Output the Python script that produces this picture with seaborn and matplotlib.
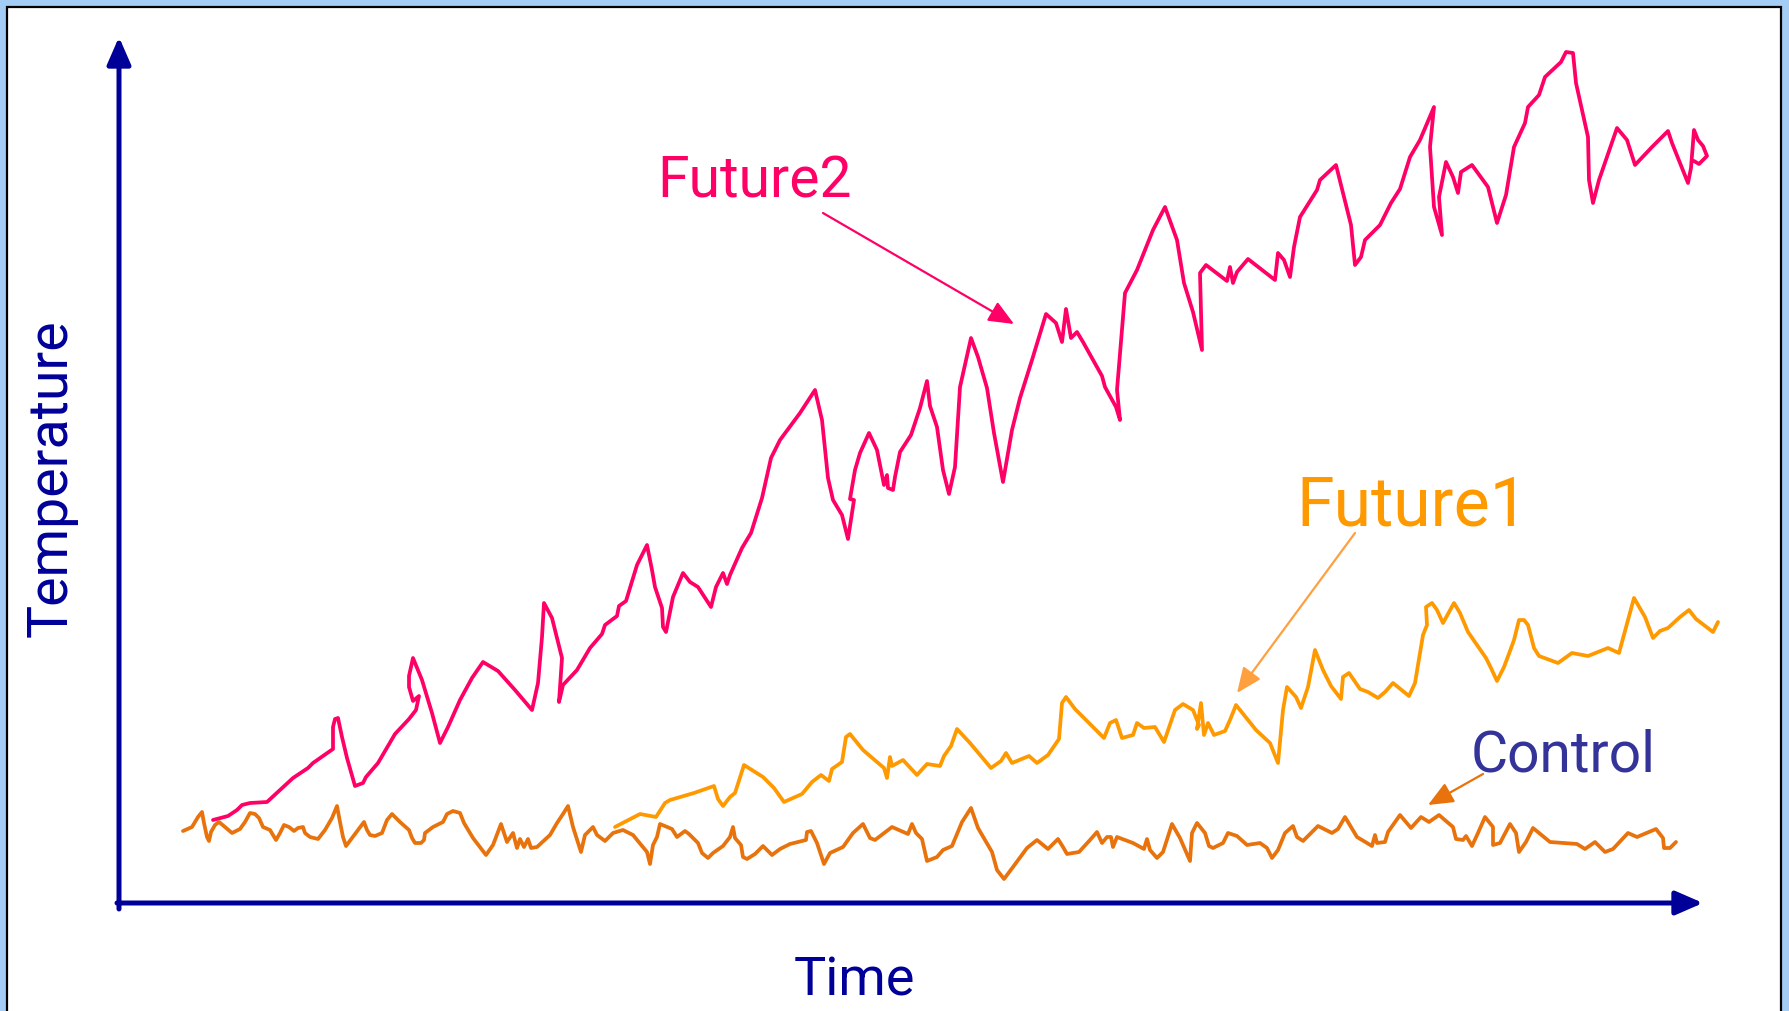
import matplotlib
matplotlib.use("Agg")
import matplotlib.pyplot as plt
import seaborn as sns
import pandas as pd
from matplotlib.patches import Rectangle

# ---------------- data (time in arbitrary units, temperature in arbitrary units) -------------
control_time = [
    183, 192, 198, 202, 204, 207, 209, 211, 215, 219,
    225, 232, 240, 245, 250, 255, 259, 263, 270, 273,
    276, 280, 284, 289, 294, 298, 303, 305, 310, 318,
    325, 332, 337, 340, 343, 346, 352, 358, 364, 367,
    370, 375, 382, 387, 392, 400, 409, 412, 415, 421,
    424, 425, 433, 443, 447, 453, 460, 464, 473, 486,
    493, 501, 507, 513, 517, 520, 524, 528, 531, 537,
    550, 557, 563, 568, 573, 581, 585, 593, 597, 605,
    613, 623, 633, 647, 650, 653, 657, 660, 672, 677,
    685, 689, 698, 702, 708, 713, 723, 730, 733, 735,
    741, 743, 747, 755, 763, 772, 780, 790, 806, 807,
    811, 817, 824, 830, 843, 853, 863, 870, 875, 892,
    908, 912, 916, 922, 927, 937, 943, 952, 962, 971,
    978, 992, 997, 1004, 1013, 1027, 1037, 1048, 1058, 1063,
    1067, 1079, 1090, 1097, 1102, 1107, 1111, 1113, 1117, 1133,
    1144, 1147, 1150, 1157, 1163, 1172, 1180, 1190, 1192, 1197,
    1205, 1209, 1213, 1223, 1228, 1237, 1247, 1260, 1267, 1272,
    1278, 1285, 1293, 1297, 1303, 1318, 1332, 1338, 1345, 1357,
    1372, 1375, 1377, 1385, 1388, 1400, 1411, 1421, 1429, 1439,
    1453, 1456, 1463, 1466, 1472, 1478, 1485, 1493, 1493, 1500,
    1510, 1516, 1519, 1526, 1533, 1550, 1577, 1585, 1595, 1605,
    1613, 1628, 1637, 1656, 1663, 1664, 1670, 1676,
]
control_temp = [
    169, 173, 183, 188, 177, 163, 159, 168, 175, 178,
    173, 167, 171, 178, 187, 186, 182, 173, 170, 165,
    160, 167, 175, 173, 169, 172, 173, 167, 163, 161,
    170, 182, 194, 178, 163, 154, 162, 170, 178, 170,
    165, 164, 167, 180, 186, 178, 170, 162, 157, 157,
    160, 167, 173, 178, 186, 189, 187, 177, 162, 145,
    155, 176, 158, 167, 152, 161, 153, 161, 152, 153,
    165, 177, 186, 194, 173, 148, 165, 173, 165, 159,
    167, 170, 165, 148, 136, 155, 163, 176, 171, 163,
    169, 166, 157, 147, 142, 147, 154, 163, 173, 162,
    155, 143, 141, 146, 154, 145, 151, 156, 160, 168,
    169, 157, 136, 147, 153, 167, 176, 162, 160, 173,
    166, 176, 167, 161, 139, 143, 150, 154, 178, 192,
    172, 148, 130, 121, 133, 152, 160, 151, 161, 153,
    146, 148, 160, 168, 157, 163, 163, 153, 163, 157,
    151, 161, 150, 142, 148, 176, 162, 139, 167, 177,
    167, 154, 152, 157, 167, 164, 155, 157, 152, 142,
    150, 167, 174, 163, 159, 174, 167, 171, 183, 163,
    154, 165, 157, 158, 168, 185, 172, 183, 178, 185,
    173, 161, 160, 164, 154, 167, 183, 173, 155, 157,
    176, 167, 148, 158, 172, 158, 156, 151, 158, 148,
    151, 167, 163, 171, 162, 152, 152, 158,
]

future1_time = [
    615, 640, 656, 665, 670, 694, 714, 718, 723, 730,
    735, 744, 763, 774, 784, 802, 812, 821, 829, 832,
    842, 846, 850, 863, 884, 887, 890, 892, 903, 917,
    927, 940, 944, 951, 957, 970, 991, 1001, 1006, 1012,
    1029, 1037, 1048, 1059, 1062, 1066, 1075, 1104, 1110, 1116,
    1122, 1133, 1137, 1144, 1155, 1164, 1175, 1183, 1193, 1199,
    1197, 1201, 1204, 1208, 1214, 1225, 1230, 1236, 1256, 1270,
    1278, 1283, 1287, 1296, 1301, 1308, 1315, 1323, 1331, 1341,
    1343, 1349, 1360, 1368, 1378, 1385, 1393, 1409, 1415, 1423,
    1427, 1426, 1432, 1437, 1443, 1454, 1460, 1468, 1486, 1491,
    1497, 1504, 1510, 1514, 1519, 1524, 1528, 1534, 1539, 1558,
    1572, 1588, 1608, 1619, 1634, 1645, 1653, 1660, 1668, 1680,
    1689, 1696, 1713, 1718,
]
future1_temp = [
    173, 186, 183, 197, 200, 207, 214, 201, 194, 203,
    207, 235, 223, 212, 198, 206, 218, 225, 219, 231,
    238, 263, 266, 250, 232, 222, 243, 234, 240, 225,
    236, 234, 244, 254, 271, 257, 232, 239, 247, 237,
    244, 237, 245, 261, 297, 303, 291, 262, 277, 280,
    262, 265, 277, 272, 273, 258, 290, 296, 290, 275,
    271, 297, 265, 277, 265, 269, 280, 295, 270, 257,
    237, 290, 313, 303, 292, 313, 350, 330, 314, 301,
    323, 327, 311, 308, 302, 308, 317, 304, 317, 365,
    375, 393, 397, 390, 377, 397, 387, 368, 342, 332,
    319, 333, 349, 360, 380, 380, 375, 352, 344, 337,
    347, 344, 352, 347, 402, 383, 362, 369, 372, 383,
    390, 381, 368, 378,
]

future2_time = [
    213, 228, 237, 242, 250, 267, 293, 308, 313, 333,
    333, 335, 338, 342, 347, 355, 363, 366, 378, 395,
    409, 416, 419, 413, 409, 409, 413, 422, 432, 440,
    448, 460, 472, 483, 498, 515, 532, 538, 542, 544,
    552, 562, 559, 563, 577, 590, 602, 605, 617, 619,
    626, 637, 647, 652, 655, 662, 663, 666, 673, 683,
    690, 698, 711, 716, 723, 727, 730, 742, 751, 762,
    771, 780, 800, 815, 822, 828, 833, 842, 848, 854,
    850, 855, 860, 869, 877, 884, 887, 888, 893, 895,
    900, 911, 920, 927, 930, 937, 943, 949, 955, 960,
    971, 978, 987, 994, 1003, 1012, 1020, 1032, 1046, 1056,
    1062, 1066, 1071, 1077, 1083, 1102, 1105, 1116, 1120, 1117,
    1125, 1137, 1153, 1165, 1177, 1184, 1193, 1202, 1200, 1206,
    1227, 1230, 1233, 1237, 1248, 1275, 1278, 1284, 1290, 1294,
    1300, 1317, 1320, 1336, 1344, 1351, 1355, 1361, 1365, 1380,
    1391, 1400, 1410, 1420, 1434, 1430, 1434, 1442, 1439, 1446,
    1453, 1458, 1461, 1472, 1488, 1497, 1506, 1514, 1525, 1528,
    1539, 1545, 1561, 1566, 1573, 1576, 1588, 1589, 1593, 1599,
    1617, 1627, 1635, 1652, 1668, 1672, 1688, 1691, 1694, 1698,
    1703, 1707, 1699, 1694,
]
future2_temp = [
    180, 184, 190, 195, 197, 198, 222, 232, 237, 251,
    273, 281, 282, 263, 242, 214, 217, 223, 237, 266,
    281, 290, 304, 299, 313, 324, 342, 320, 287, 257,
    273, 300, 322, 338, 329, 310, 290, 317, 363, 397,
    382, 342, 298, 315, 330, 352, 366, 375, 384, 394,
    399, 435, 455, 430, 413, 392, 373, 368, 403, 427,
    418, 413, 393, 413, 427, 416, 425, 452, 467, 502,
    542, 560, 587, 610, 580, 522, 500, 485, 461, 500,
    501, 530, 547, 567, 550, 515, 525, 512, 510, 523,
    548, 565, 592, 619, 594, 573, 530, 506, 533, 613,
    662, 643, 612, 567, 518, 570, 602, 640, 686, 677,
    658, 691, 662, 668, 658, 624, 613, 593, 580, 610,
    707, 730, 770, 793, 760, 717, 688, 650, 727, 735,
    719, 733, 717, 728, 741, 720, 747, 740, 723, 753,
    783, 810, 820, 835, 803, 775, 735, 743, 760, 775,
    797, 811, 843, 860, 893, 853, 793, 765, 803, 838,
    823, 807, 828, 835, 813, 777, 805, 853, 877, 893,
    905, 923, 938, 948, 947, 917, 863, 820, 797, 820,
    872, 860, 835, 853, 869, 857, 817, 832, 870, 860,
    854, 844, 836, 839,
]

series_labels = ["Future2", "Future1", "Control"]
axis_labels = ["Time", "Temperature"]

# ---------------- style -------------
NAVY = "#000099"
PINK = "#FF0066"
ORANGE = "#FF9900"
DARK_ORANGE = "#E8720C"
CONTROL_TXT = "#333399"
BG_BLUE = "#A3CDF5"

sns.set_theme(style="white")
plt.rcParams["font.family"] = ["Roboto", "DejaVu Sans"]

W, H = 1789, 1011
fig = plt.figure(figsize=(W / 100, H / 100), dpi=100, facecolor=BG_BLUE)
ax = fig.add_axes([0, 0, 1, 1])
ax.set_xlim(0, W)
ax.set_ylim(1000 - H, 1000)
ax.set_axis_off()

# white panel with thin black border
ax.add_patch(Rectangle((7, 1000 - H - 20), 1774, H + 20 - 7, facecolor="white",
                       edgecolor="black", lw=1.6, zorder=0))

line_kw = dict(sort=False, estimator=None, legend=False, lw=2.7,
               solid_joinstyle="round", solid_capstyle="round", ax=ax)
sns.lineplot(x=future2_time, y=future2_temp, color=PINK, zorder=3, **line_kw)
sns.lineplot(x=future1_time, y=future1_temp, color=ORANGE, zorder=3, **line_kw)
sns.lineplot(x=control_time, y=control_temp, color=DARK_ORANGE, zorder=3, **line_kw)

# axes drawn as arrows
axis_arrow = dict(arrowstyle="-|>,head_length=0.55,head_width=0.24", color=NAVY,
                  lw=3.6, mutation_scale=30, shrinkA=0, shrinkB=0)
ax.annotate("", xy=(119, 963), xytext=(119, 91), arrowprops=axis_arrow, zorder=4)
ax.annotate("", xy=(1703, 97), xytext=(117, 97), arrowprops=axis_arrow, zorder=4)

# axis labels
ax.text(854, 5, axis_labels[0], color=NAVY, fontsize=39, ha="center", va="baseline")
ax.text(51, 522, axis_labels[1], color=NAVY, fontsize=40, ha="center", va="center",
        rotation=90)

# series annotations
def label(txt, xy_text, xy_tip, xy_tail, tcolor, acolor, fs):
    ax.text(*xy_text, txt, color=tcolor, fontsize=fs, ha="center", va="baseline", zorder=5)
    ax.annotate("", xy=xy_tip, xytext=xy_tail,
                arrowprops=dict(arrowstyle="-|>,head_length=0.7,head_width=0.3",
                                color=acolor, lw=1.6, mutation_scale=22,
                                shrinkA=0, shrinkB=0), zorder=5)

label(series_labels[0], (754, 803), (1014, 676), (823, 787), PINK, PINK, 41)
label(series_labels[1], (1412, 475), (1237, 307), (1355, 467), ORANGE, "#FFA040", 49)
label(series_labels[2], (1563, 228), (1428, 195), (1483, 226), CONTROL_TXT, DARK_ORANGE, 41)

fig.savefig("out.png", dpi=100, facecolor=fig.get_facecolor())
